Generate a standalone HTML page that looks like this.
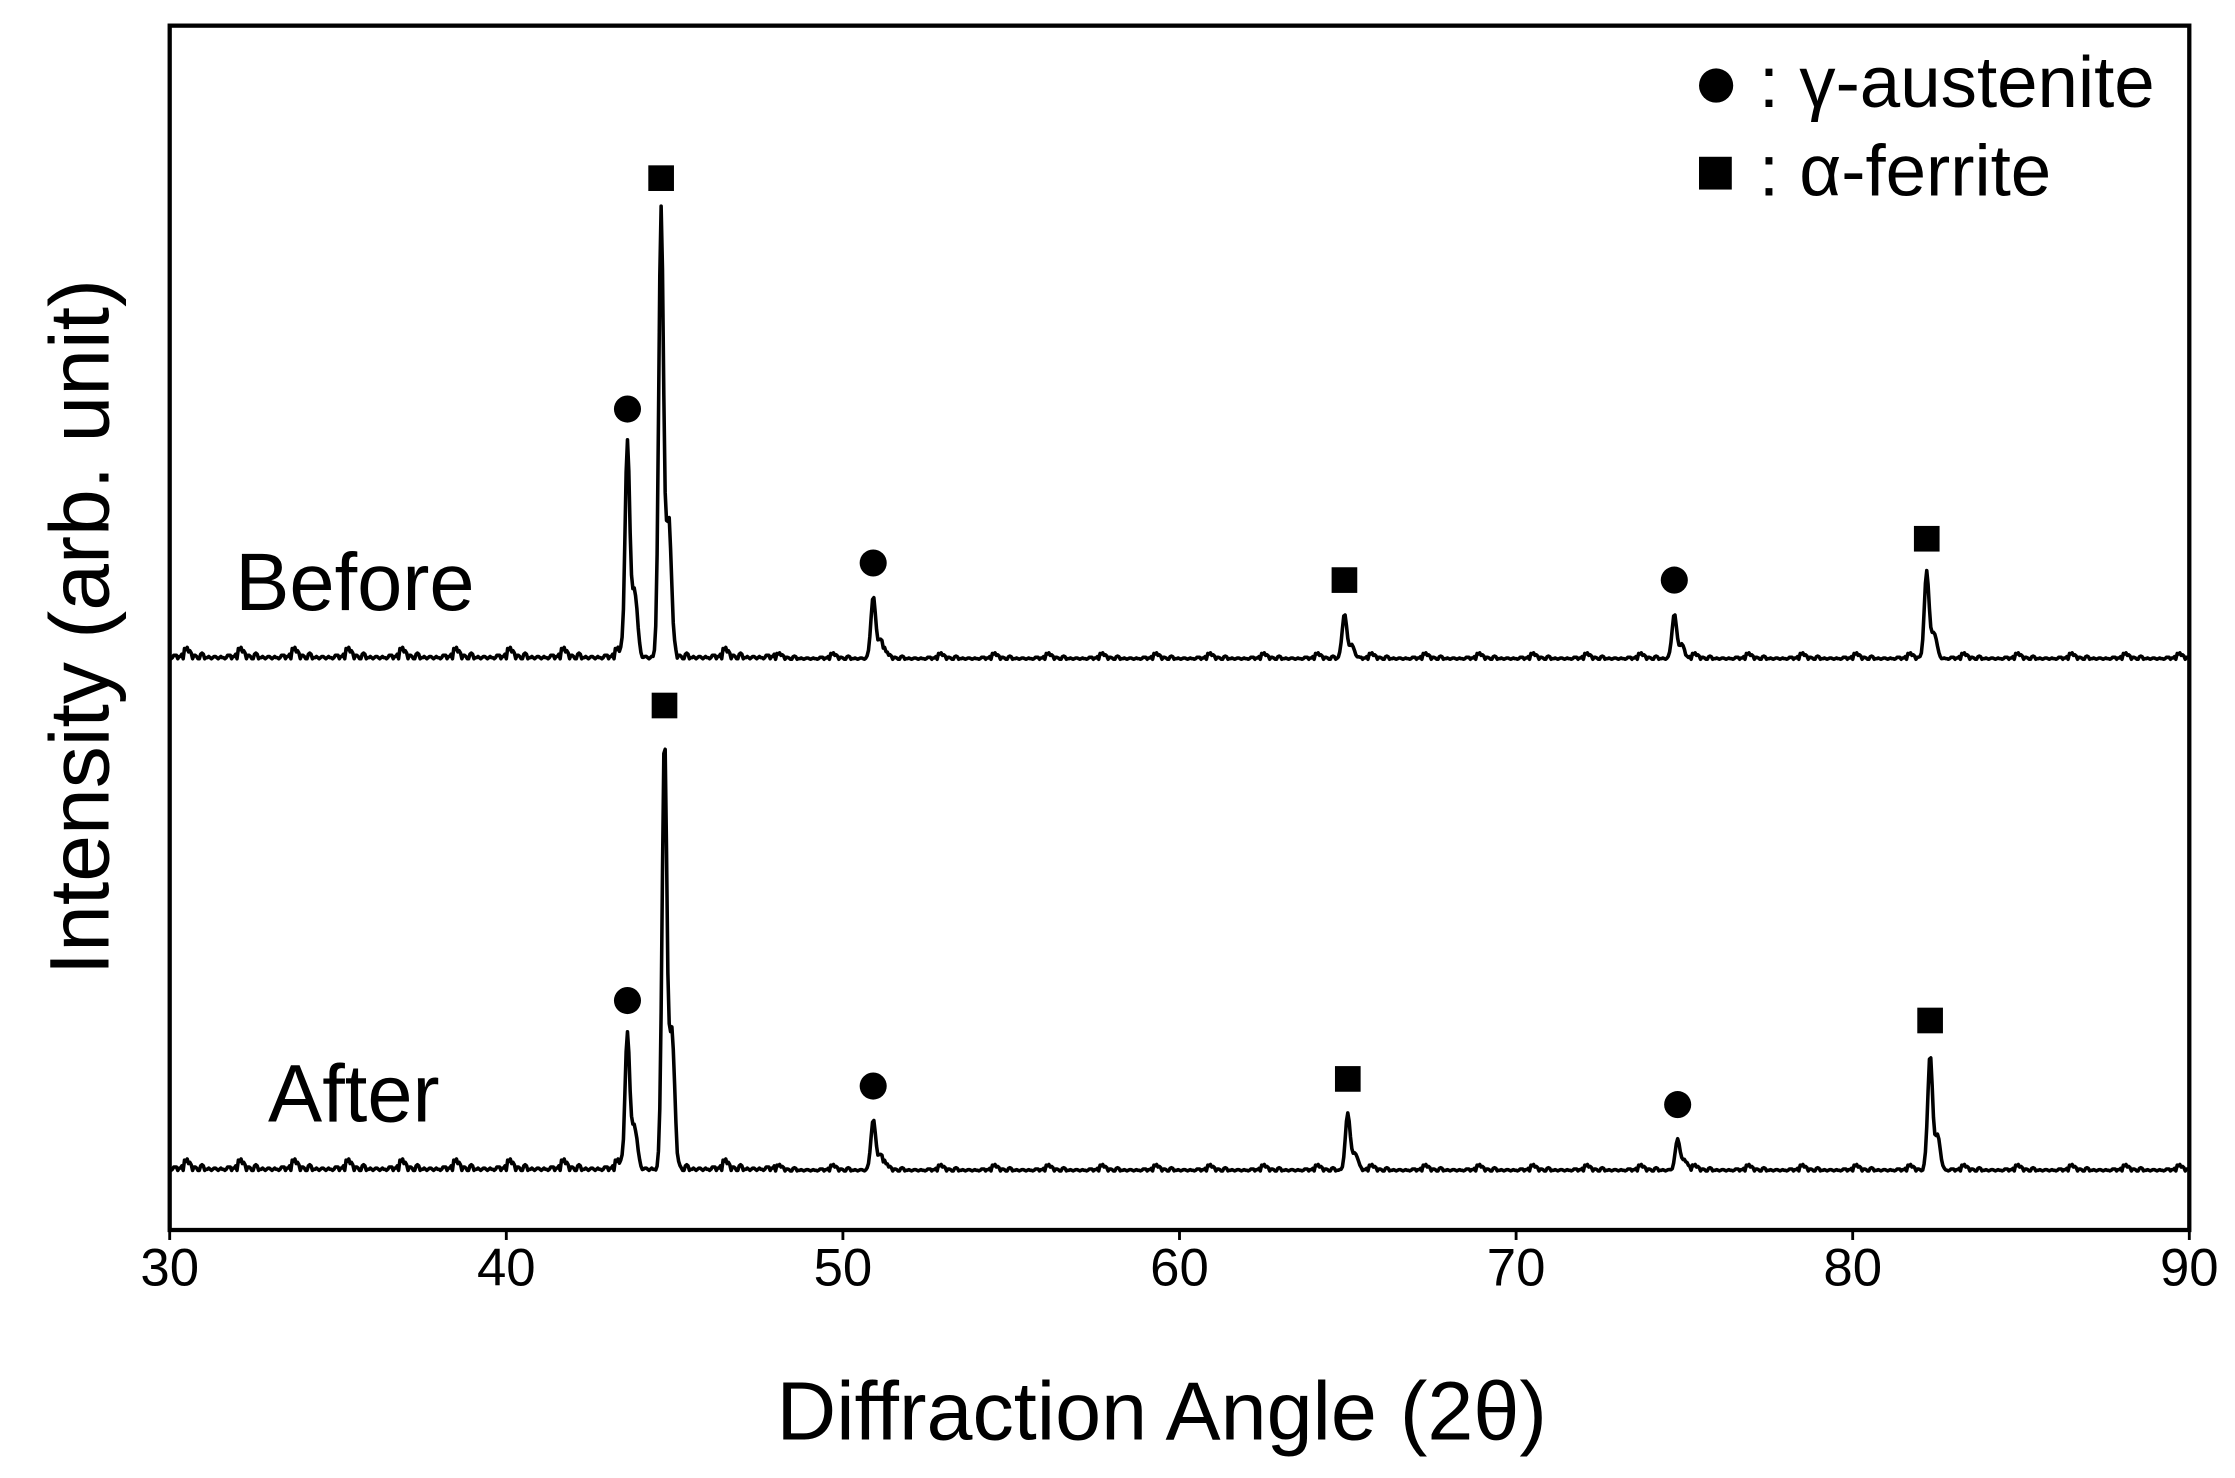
<!DOCTYPE html>
<html><head><meta charset="utf-8"><style>
html,body{margin:0;padding:0;background:#fff;}
svg{display:block;font-family:"Liberation Sans",Arial,sans-serif;}
</style></head><body>
<svg id="chart" width="2235" height="1478" viewBox="0 0 1568 1037" xmlns="http://www.w3.org/2000/svg">
<rect x="119" y="18" width="1417" height="845" fill="none" stroke="#000" stroke-width="3"/>
<g id="xticks"></g>
<g id="series"></g>
<g id="markers"></g>
<text x="815" y="1010" font-size="58" text-anchor="middle">Diffraction Angle (2θ)</text>
<text transform="translate(76,440) rotate(-90)" font-size="59" text-anchor="middle">Intensity (arb. unit)</text>
<text x="165" y="428" font-size="57">Before</text>
<text x="188" y="787" font-size="57">After</text>
<g>
<circle cx="1204" cy="60" r="12" fill="#000"/>
<text x="1234" y="75" font-size="51">: γ-austenite</text>
<rect x="1192" y="110" width="23" height="23" fill="#000"/>
<text x="1234" y="137" font-size="51">: α-ferrite</text>
</g>
</svg>
<script>
const xTicks=[30,40,50,60,70,80,90];
const peakPos=[43.6,44.6,50.9,64.9,74.7,82.2];
const peakPhase=["g","a","g","a","g","a"];
const beforeHeights=[151,313,43,31,31,60];
const afterPos=[43.6,44.7,50.9,65.0,74.8,82.3];
const afterHeights=[95,302,35,40,22,81];
const noise=[2,5,1,3,9,2,4,1,6,3,2,11,1,4,2,5,3,1,7,2,3,4,1,5,2,8,3,1,4,2,1,3,6,2,1,4,2,10,3,1];
const X0=119,X1=1536,xmin=30,xmax=90;
const baseBefore=463,baseAfter=822;
function xs(v){return X0+(v-xmin)/(xmax-xmin)*(X1-X0);}
const NS="http://www.w3.org/2000/svg";
const gT=document.getElementById('xticks');
xTicks.forEach(t=>{
 const l=document.createElementNS(NS,'line');
 l.setAttribute('x1',xs(t));l.setAttribute('x2',xs(t));l.setAttribute('y1',863);l.setAttribute('y2',870);
 l.setAttribute('stroke','#000');l.setAttribute('stroke-width','2');
 
 
 gT.appendChild(l);
 const tx=document.createElementNS(NS,'text');
 tx.setAttribute('x',xs(t));tx.setAttribute('y',902);tx.setAttribute('font-size','37');tx.setAttribute('text-anchor','middle');
 tx.textContent=t;
 
 
 gT.appendChild(tx);
});
function spectrum(pos,h,base,name){
 let d='';
 for(let i=0;i<=1500;i++){
  const x=xmin+i*(xmax-xmin)/1500;
  let y=noise[(i*7)%noise.length]*(x<48?0.8:0.45);
  for(let k=0;k<pos.length;k++){
   const dx=x-pos[k];
   y+=h[k]*Math.exp(-dx*dx/(2*0.07*0.07));
   const dx2=x-pos[k]-0.22;
   y+=h[k]*0.3*Math.exp(-dx2*dx2/(2*0.08*0.08));
  }
  d+=(i?'L':'M')+xs(x).toFixed(2)+' '+(base-y).toFixed(2);
 }
 const p=document.createElementNS(NS,'path');
 p.setAttribute('d',d);p.setAttribute('fill','none');p.setAttribute('stroke','#000');p.setAttribute('stroke-width','2.5');p.setAttribute('stroke-linejoin','round');
 
 
 document.getElementById('series').appendChild(p);
 const gm=document.getElementById('markers');
 pos.forEach((px,k)=>{
  const cy=base-h[k]-25;let m;
  if(peakPhase[k]==='g'){m=document.createElementNS(NS,'circle');m.setAttribute('cx',xs(px));m.setAttribute('cy',cy);m.setAttribute('r',9.5);}
  else{m=document.createElementNS(NS,'rect');m.setAttribute('x',xs(px)-9);m.setAttribute('y',cy-9);m.setAttribute('width',18);m.setAttribute('height',18);}
  m.setAttribute('fill','#000');
  
  
  gm.appendChild(m);
 });
}
spectrum(peakPos,beforeHeights,baseBefore,'before-pattern');
spectrum(afterPos,afterHeights,baseAfter,'after-pattern');
</script>
</body></html>
